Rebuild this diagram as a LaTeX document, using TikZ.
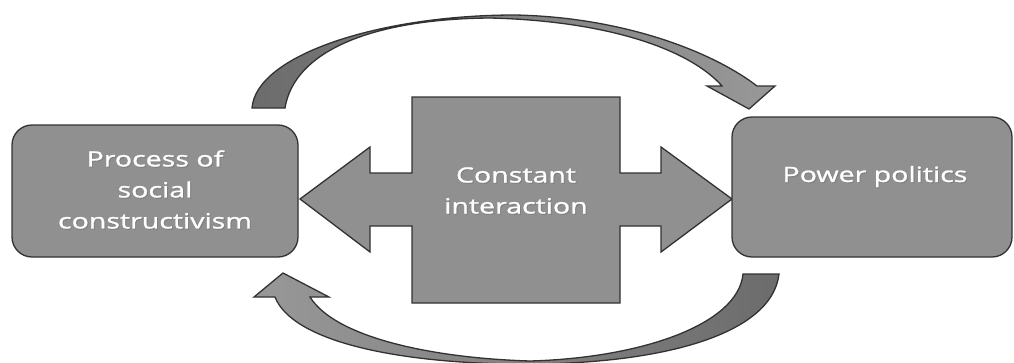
\documentclass[tikz,border=0pt]{standalone}
\usepackage{fontspec}
\setmainfont{Open Sans}[FakeStretch=1.36,FakeBold=1.2]
\definecolor{boxgray}{RGB}{144,144,144}
\definecolor{edgegray}{RGB}{50,50,50}
\definecolor{darkarc}{RGB}{108,108,108}
\definecolor{lightarc}{RGB}{152,152,152}
\newcommand\shtx[1]{\makebox[0pt][l]{\kern1pt\raisebox{-1pt}{\textcolor{black!50}{#1}}}#1}
\begin{document}
\begin{tikzpicture}[x=1pt,y=-1pt,
  boxstyle/.style={draw=edgegray,line width=1.3pt,fill=boxgray,rounded corners=20pt,inner sep=0pt},
  labelstyle/.style={text=white,align=center,font=\fontsize{21}{31}\selectfont},
  shapeline/.style={draw=edgegray,line width=1.3pt,line join=miter}]
\useasboundingbox (0,0) rectangle (1014,362);
% top curved arrow
\shadedraw[shapeline,left color=darkarc,right color=lightarc]
  (252,108) .. controls (256,55) and (380,15) .. (515,15)
  .. controls (620,17) and (710,50) .. (757,86)
  -- (775,86) -- (749,109) -- (707,86) -- (722,86)
  .. controls (690,50) and (610,21) .. (490,18)
  .. controls (370,19) and (294,52) .. (285,108) -- cycle;
% bottom curved arrow
\shadedraw[shapeline,left color=lightarc,right color=darkarc]
  (743,274) -- (779,274)
  .. controls (772,335) and (660,366) .. (510,364)
  .. controls (390,362) and (292,340) .. (275,297)
  -- (254,297) -- (283,273) -- (329,297) -- (310,297)
  .. controls (335,337) and (430,358) .. (530,361)
  .. controls (640,358) and (738,325) .. (743,274) -- cycle;
% central double arrow
\draw[shapeline,fill=boxgray]
  (300,199) -- (370,147) -- (370,173) -- (412,173) -- (412,97) -- (620,97)
  -- (620,173) -- (661,173) -- (661,147) -- (732,199) -- (661,252)
  -- (661,226) -- (620,226) -- (620,303) -- (412,303) -- (412,226)
  -- (370,226) -- (370,252) -- cycle;
\node[boxstyle,minimum width=286pt,minimum height=132pt] (social) at (155,191) {};
\node[boxstyle,minimum width=280pt,minimum height=140pt] (power) at (872,187) {};
\node[labelstyle] (socialtext) at (155,190) {\shtx{Process of}\\\shtx{social}\\\shtx{constructivism}};
\node[labelstyle] (powertext) at (875,177) {\shtx{Power politics}};
\node[labelstyle] (interaction) at (516,191) {\shtx{Constant}\\\shtx{interaction}};
\end{tikzpicture}
\end{document}
